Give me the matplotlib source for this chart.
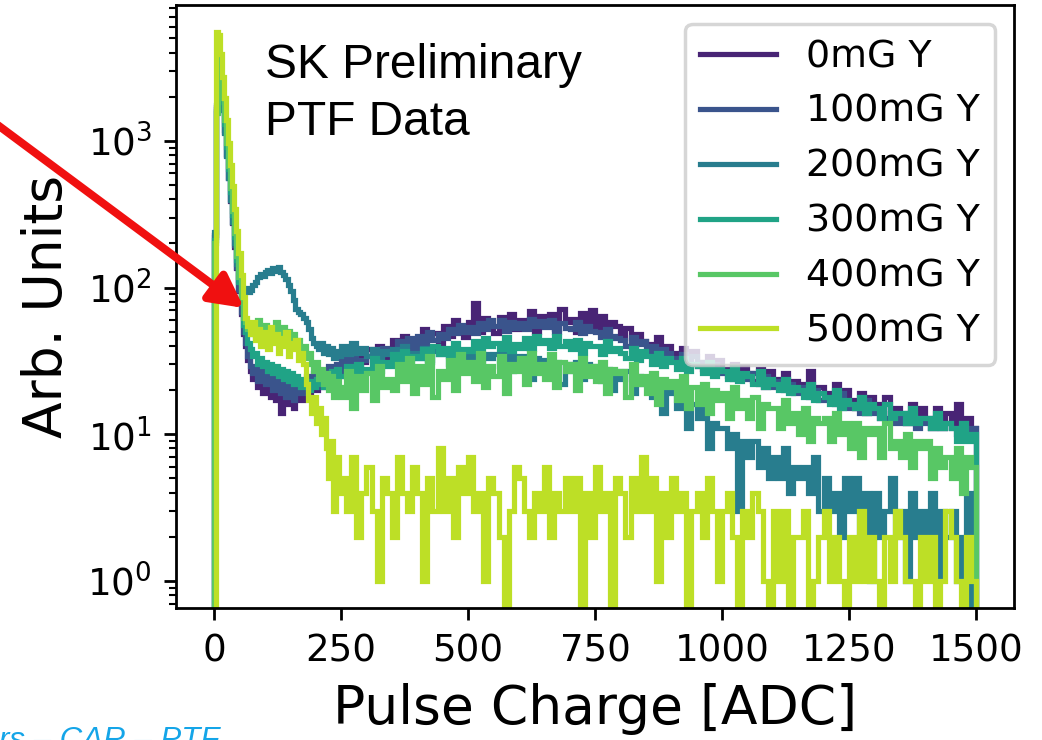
import numpy as np
import matplotlib
matplotlib.use("Agg")
import matplotlib.pyplot as plt
from matplotlib.patches import FancyArrowPatch

W, H, DPI = 1042, 740, 250

labels = ["0mG Y", "100mG Y", "200mG Y", "300mG Y", "400mG Y", "500mG Y"]

# bin edges in ADC: 4-ADC bins up to 60, 5-ADC bins up to 250, 10-ADC bins up to 1500
edges = np.concatenate([np.arange(0, 60, 4), np.arange(60, 250, 5), np.arange(250, 1501, 10)])

# ---- values (peak 0-60 | low 60-250 | tail 250-1500) ----
h_0mG = [
    230, 1700, 3300, 2350, 1650, 1150, 800, 560, 390, 275, 190, 135, 95, 66, 48,
    40, 32, 27, 24, 26, 21, 23, 19, 22, 25, 18, 21, 17, 20, 14, 19, 16, 21, 18, 15,
    19, 22, 17, 20, 23, 19, 21, 24, 20, 23, 26, 21, 24, 27, 22, 26, 29, 25,
    29, 34, 27, 36, 31, 38, 32, 40, 30, 37, 44, 36, 47, 39, 42, 41, 52, 46, 49, 40,
    55, 47, 60, 51, 46, 58, 78, 50, 62, 54, 49, 63, 57, 66, 52, 60, 55, 69, 50, 64,
    57, 66, 52, 72, 58, 61, 50, 67, 56, 70, 53, 64, 48, 58, 55, 45, 53, 40, 48, 43,
    41, 36, 46, 34, 40, 36, 32, 39, 30, 37, 31, 28, 34, 27, 32, 28, 25, 30, 24, 29,
    26, 23, 28, 21, 27, 24, 21, 26, 20, 23, 22, 19, 27, 18, 21, 19, 17, 22, 16, 20,
    17, 15, 19, 14, 18, 16, 13, 18, 14, 15, 14, 12, 16, 12, 15, 13, 11, 15, 11, 14,
    12, 16, 10, 13, 11,
]
h_100mG = [
    220, 1650, 3400, 2400, 1700, 1180, 820, 570, 400, 280, 195, 138, 97, 68, 50,
    42, 34, 29, 26, 28, 23, 25, 27, 22, 26, 24, 20, 25, 22, 19, 23, 18, 21, 24, 17,
    20, 23, 19, 22, 25, 20, 23, 26, 21, 24, 27, 23, 26, 29, 24, 27, 30, 26,
    33, 28, 35, 30, 32, 34, 37, 31, 39, 35, 37, 43, 39, 45, 38, 47, 42, 50, 44, 48,
    45, 52, 49, 56, 50, 54, 49, 57, 52, 60, 55, 60, 51, 58, 53, 57, 52, 61, 55, 59,
    54, 60, 50, 57, 53, 52, 58, 49, 55, 51, 50, 46, 52, 47, 45, 44, 40, 46, 41, 43,
    37, 40, 35, 38, 36, 33, 31, 35, 32, 34, 29, 31, 27, 30, 28, 26, 27, 24, 26, 25,
    24, 26, 22, 25, 23, 21, 23, 20, 22, 19, 19, 21, 18, 20, 17, 17, 18, 16, 19, 15,
    15, 16, 14, 17, 14, 14, 15, 13, 14, 12, 13, 12, 14, 11, 13, 12, 11, 13, 11, 12,
    11, 10, 12, 10, 11,
]
h_200mG = [
    240, 1750, 3200, 2300, 1620, 1130, 790, 560, 395, 280, 200, 145, 112, 100, 98,
    100, 94, 96, 104, 110, 118, 124, 120, 128, 132, 126, 136, 130, 138, 127, 122, 115, 105, 95, 82,
    72, 68, 66, 62, 58, 52, 45, 42, 40, 38, 42, 36, 40, 35, 39, 33, 37, 34,
    40, 35, 42, 36, 39, 34, 38, 32, 37, 35, 38, 33, 40, 34, 36, 33, 39, 31, 37, 35,
    37, 30, 38, 33, 36, 31, 37, 28, 35, 33, 35, 29, 36, 27, 34, 30, 34, 24, 33, 31,
    32, 26, 31, 22, 30, 27, 31, 24, 30, 26, 29, 23, 28, 20, 27, 24, 27, 19, 25, 22,
    23, 18, 21, 14, 20, 19, 15, 17, 11, 16, 13, 15, 8, 12, 11, 11, 8, 10, 3, 9,
    7, 9, 6, 8, 5, 7, 5, 8, 4, 6, 5, 6, 4, 7, 3, 5, 3, 4, 2, 5,
    3, 5, 2, 4, 1, 4, 2, 3, 5, 2, 3, 1, 4, 2, 3, 2, 4, 1, 3, 2,
    3, 1, 2, 4, 0,
]
h_300mG = [
    210, 1600, 3500, 2600, 1850, 1300, 910, 640, 450, 315, 220, 155, 110, 78, 56,
    50, 42, 38, 34, 36, 30, 33, 29, 31, 27, 30, 26, 29, 25, 28, 24, 27, 23, 26, 22,
    25, 23, 21, 24, 22, 20, 23, 21, 24, 22, 25, 21, 26, 23, 27, 24, 28, 25,
    25, 29, 24, 30, 27, 28, 33, 27, 31, 29, 35, 30, 37, 31, 34, 33, 38, 32, 40, 35,
    39, 34, 42, 36, 38, 37, 43, 36, 45, 40, 42, 38, 46, 37, 41, 39, 45, 38, 47, 42,
    44, 39, 47, 40, 43, 38, 44, 36, 42, 40, 40, 35, 43, 37, 39, 36, 33, 39, 32, 37,
    34, 30, 36, 29, 33, 31, 28, 33, 27, 30, 29, 26, 31, 25, 28, 27, 24, 29, 23, 26,
    25, 22, 27, 21, 24, 22, 20, 24, 19, 21, 20, 18, 22, 17, 19, 18, 16, 20, 15, 17,
    16, 15, 18, 14, 16, 15, 13, 16, 13, 14, 14, 12, 15, 12, 13, 13, 11, 14, 11, 12,
    11, 9, 12, 9, 10,
]
h_400mG = [
    200, 1550, 3600, 2700, 1950, 1380, 970, 680, 480, 335, 235, 165, 118, 84, 62,
    58, 52, 48, 55, 46, 60, 50, 44, 56, 48, 53, 45, 58, 49, 44, 54, 47, 51, 42, 48,
    40, 44, 37, 40, 33, 36, 30, 27, 31, 24, 28, 22, 26, 20, 25, 18, 23, 21,
    18, 27, 15, 25, 20, 26, 17, 29, 21, 24, 20, 30, 23, 33, 19, 29, 22, 34, 18, 27,
    24, 32, 20, 35, 26, 31, 23, 36, 21, 29, 25, 34, 19, 30, 27, 33, 22, 36, 26, 30,
    24, 35, 21, 31, 27, 30, 20, 33, 25, 29, 23, 31, 19, 28, 26, 27, 18, 30, 22, 25,
    19, 26, 16, 24, 21, 23, 17, 25, 15, 21, 16, 22, 14, 20, 17, 19, 13, 21, 15, 17,
    13, 18, 11, 16, 15, 15, 11, 17, 12, 14, 10, 15, 9, 13, 12, 13, 9, 14, 10, 12,
    8, 12, 7, 11, 10, 11, 7, 12, 8, 9, 7, 10, 6, 9, 8, 9, 5, 8, 6, 7,
    5, 8, 4, 7, 6,
]
h_500mG = [
    0, 5500, 5300, 3900, 2750, 1950, 1380, 970, 690, 490, 345, 245, 172, 122, 86,
    62, 55, 48, 58, 44, 52, 40, 50, 46, 38, 54, 42, 48, 36, 45, 40, 50, 34, 42, 38,
    44, 32, 36, 30, 22, 17, 14, 18, 12, 15, 10, 13, 8, 5, 9, 3, 7, 4,
    5, 3, 7, 2, 4, 6, 3, 1, 5, 4, 2, 7, 4, 3, 6, 4, 1, 5, 3, 8,
    3, 5, 2, 6, 4, 7, 3, 4, 1, 5, 4, 2, 0, 3, 6, 5, 3, 2, 4, 3,
    6, 2, 4, 3, 5, 3, 5, 0, 4, 2, 6, 3, 4, 0, 5, 4, 2, 5, 3, 7,
    3, 5, 1, 4, 2, 5, 3, 4, 0, 3, 4, 2, 5, 3, 1, 3, 4, 2, 0, 3,
    2, 4, 3, 1, 0, 3, 1, 3, 0, 2, 2, 3, 0, 1, 2, 3, 1, 2, 1, 0,
    2, 1, 3, 1, 2, 1, 0, 2, 1, 3, 2, 1, 1, 0, 2, 1, 2, 0, 1, 3,
    2, 1, 0, 2, 1,
]
series = [h_0mG, h_100mG, h_200mG, h_300mG, h_400mG, h_500mG]

colors = plt.cm.viridis(np.linspace(0.1, 0.9, 6))

fig = plt.figure(figsize=(W / DPI, H / DPI), dpi=DPI)
ax = fig.add_axes([176 / W, 1 - 608 / H, (1014 - 176) / W, (608 - 5) / H])

for vals, lab, col in zip(series, labels, colors):
    ax.stairs(np.asarray(vals, dtype=float), edges, baseline=0, color=col,
              linewidth=1.5, label=lab)

ax.set_yscale("log")
ax.set_xlim(-75, 1575)
ax.set_ylim(0.654, 8450)
ax.set_xticks([0, 250, 500, 750, 1000, 1250, 1500])
ax.tick_params(labelsize=10.7)
ax.set_xlabel("Pulse Charge [ADC]", fontsize=15.4, labelpad=4)
ax.set_ylabel("Arb. Units", fontsize=15.4, labelpad=4)

ax.legend(loc="upper right", fontsize=10.9, labelspacing=0.5)

fig.text(265 / W, 1 - 78 / H, "SK Preliminary", family="Liberation Sans",
         fontsize=13.8, va="baseline", ha="left")
fig.text(265 / W, 1 - 135 / H, "PTF Data", family="Liberation Sans",
         fontsize=13.8, va="baseline", ha="left")

fig.text(-1 / W, 1 - 749 / H, "rs \u2013 CAR \u2013 PTF", family="Liberation Sans",
         style="italic", fontsize=9, color="#14a5e8", va="baseline", ha="left")

arrow = FancyArrowPatch(posA=(-5 / W, 1 - 123 / H), posB=(244 / W, 1 - 308 / H),
                        transform=fig.transFigure,
                        arrowstyle="-|>,head_length=0.8,head_width=0.42",
                        mutation_scale=10, color="#f01010", linewidth=2.3,
                        shrinkA=0, shrinkB=0, zorder=10)
fig.add_artist(arrow)

fig.savefig("out.png", dpi=DPI)
